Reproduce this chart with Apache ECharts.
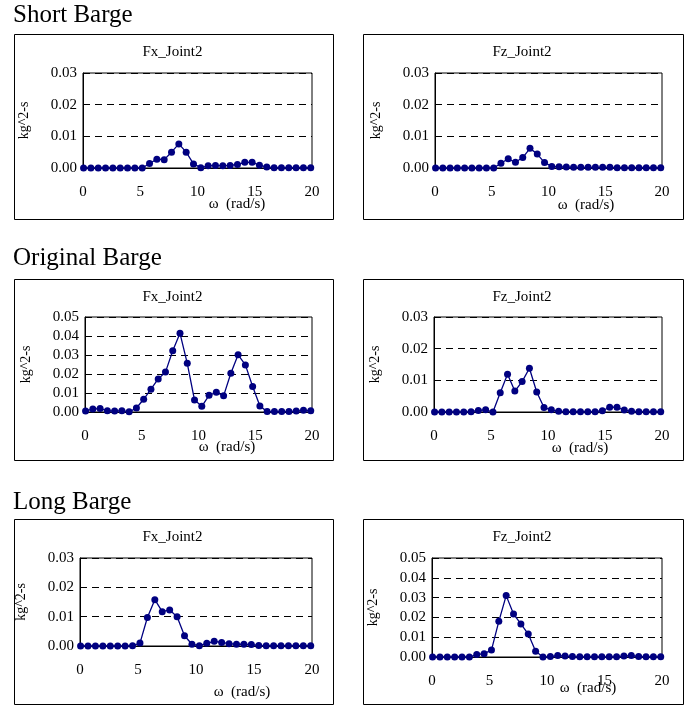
<!DOCTYPE html>
<html lang="en">
<head>
  <meta charset="UTF-8">
  <title>Barge joint spectra</title>
  <style>
    html, body { margin: 0; padding: 0; background: #fff; }
  </style>
</head>
<body>
<div id="main" style="width: 686px;height:706px;"></div>
<script src="https://cdn.jsdelivr.net/npm/echarts@6/dist/echarts.min.js"></script>
<script type="text/javascript">
  // frequencies (rad/s), shared by all six panels
  const omega = [0.05, 0.69, 1.33, 1.97, 2.61, 3.25, 3.89, 4.53, 5.17, 5.81, 6.45, 7.09, 7.73, 8.37, 9.01, 9.65,
    10.29, 10.93, 11.57, 12.21, 12.85, 13.49, 14.13, 14.77, 15.41, 16.05, 16.69, 17.33, 17.97, 18.61, 19.25, 19.89]

  const shortFx = [0, 0, 0, 0, 0, 0, 0, 0, 0, 0.0014, 0.0028, 0.0026, 0.005, 0.0076, 0.005, 0.0013,
    0.0001, 0.0007, 0.0008, 0.0007, 0.0008, 0.0011, 0.0018, 0.0018, 0.0009, 0.0003, 0.0001, 0.0001, 0.0001, 0.0001, 0.0001, 0.0001]
  const shortFz = [0, 0, 0, 0, 0, 0, 0, 0, 0, 0.0015, 0.0029, 0.0018, 0.0033, 0.0062, 0.0044, 0.0017,
    0.0005, 0.0004, 0.0003, 0.0002, 0.0002, 0.0002, 0.0002, 0.0002, 0.0002, 0.0001, 0.0001, 0.0001, 0.0001, 0.0001, 0.0001, 0.0001]
  const originalFx = [0.0005, 0.0016, 0.0018, 0.0007, 0.0005, 0.0007, 0.0001, 0.0021, 0.0067, 0.012, 0.0174, 0.021, 0.0322, 0.0414, 0.0256, 0.0063,
    0.003, 0.0088, 0.0104, 0.0085, 0.0204, 0.0301, 0.0248, 0.0134, 0.0032, 0.0002, 0.0002, 0.0002, 0.0002, 0.0005, 0.0009, 0.0007]
  const originalFz = [0, 0, 0, 0, 0, 0.0001, 0.0005, 0.0007, 0, 0.0061, 0.0119, 0.0066, 0.0096, 0.0138, 0.0063, 0.0014,
    0.0007, 0.0002, 0.0001, 0.0001, 0.0001, 0.0001, 0.0001, 0.0004, 0.0015, 0.0015, 0.0006, 0.0002, 0.0001, 0.0001, 0.0001, 0.0001]
  const longFx = [0, 0, 0, 0, 0, 0, 0, 0.0001, 0.001, 0.0097, 0.0158, 0.0117, 0.0123, 0.01, 0.0035, 0.0006,
    0.0001, 0.0009, 0.0016, 0.0012, 0.0008, 0.0006, 0.0006, 0.0005, 0.0002, 0.0001, 0.0001, 0.0001, 0.0001, 0.0001, 0.0001, 0.0001]
  const longFz = [0, 0, 0, 0, 0, 0, 0.0012, 0.0017, 0.0035, 0.018, 0.031, 0.0217, 0.0167, 0.0116, 0.0029, 0,
    0.0002, 0.0007, 0.0005, 0.0002, 0.0001, 0.0001, 0.0001, 0.0001, 0.0001, 0.0001, 0.0005, 0.0007, 0.0003, 0.0001, 0.0001, 0.0001]

  const sections = ['Short Barge', 'Original Barge', 'Long Barge']
  const panelTitles = ['Fx_Joint2', 'Fz_Joint2']
  const panelData = [shortFx, shortFz, originalFx, originalFz, longFx, longFz]
  const yMax = [0.03, 0.03, 0.05, 0.03, 0.03, 0.05]

  // layout of each panel: outer box, plot area, x-name position
  const panels = [
    { box: [14, 34, 319, 185], plot: [83, 73, 229, 95], xName: [237, 204] },
    { box: [363, 34, 320, 185], plot: [435, 73, 227, 95], xName: [586, 205] },
    { box: [14, 279, 319, 181], plot: [85, 317, 227, 95], xName: [227, 447] },
    { box: [363, 279, 320, 181], plot: [434, 317, 228, 95], xName: [580, 448] },
    { box: [14, 519, 319, 185], plot: [80, 558, 232, 88], xName: [242, 692] },
    { box: [363, 519, 320, 185], plot: [432, 558, 230, 99], xName: [588, 688] }
  ]
  const sectionY = [3, 246, 490]

  const font = '"Liberation Serif", "Times New Roman", serif'
  const navy = '#000080'

  const grids = []
  const xAxes = []
  const yAxes = []
  const series = []
  const graphics = []

  sections.forEach((s, i) => {
    graphics.push({
      type: 'text', left: 13, top: sectionY[i],
      style: { text: s, font: '25px ' + font, fill: '#000' }
    })
  })

  panels.forEach((p, i) => {
    const [bx, by, bw, bh] = p.box
    const [px, py, pw, ph] = p.plot
    graphics.push({
      type: 'rect', shape: { x: bx + 0.5, y: by + 0.5, width: bw, height: bh },
      style: { fill: 'none', stroke: '#000', lineWidth: 1 }, z: -1
    })
    graphics.push({
      type: 'text', x: bx + bw / 2 - 1, y: by + 18,
      style: { text: panelTitles[i % 2], font: '15px ' + font, fill: '#000', align: 'center', verticalAlign: 'middle' }
    })
    graphics.push({
      type: 'text', x: p.xName[0], y: p.xName[1],
      style: { text: 'ω  (rad/s)', font: '15px ' + font, fill: '#000', align: 'center', verticalAlign: 'middle' }
    })
    grids.push({ left: px, top: py, width: pw, height: ph, show: true, borderColor: '#000', borderWidth: 1 })
    xAxes.push({
      gridIndex: i, type: 'value', min: 0, max: 20, interval: 5,
      axisLine: { show: true, onZero: false, lineStyle: { color: '#000' } },
      axisTick: { show: false },
      splitLine: { show: false },
      axisLabel: { color: '#000', fontFamily: font, fontSize: 15, margin: 17 }
    })
    yAxes.push({
      gridIndex: i, type: 'value', min: 0, max: yMax[i], interval: 0.01,
      name: 'kg^2-s', nameLocation: 'middle', nameGap: 52,
      nameTextStyle: { color: '#000', fontFamily: font, fontSize: 14 },
      axisLine: { show: true, lineStyle: { color: '#000' } },
      axisTick: { show: false },
      splitLine: { show: true, lineStyle: { color: '#000', type: [7, 5] } },
      axisLabel: { color: '#000', fontFamily: font, fontSize: 15, margin: 6, formatter: (v) => v.toFixed(2) }
    })
    series.push({
      type: 'line', xAxisIndex: i, yAxisIndex: i,
      data: omega.map((w, k) => [w, panelData[i][k]]),
      symbol: 'circle', symbolSize: 7, showAllSymbol: true,
      itemStyle: { color: navy },
      lineStyle: { color: navy, width: 1.3 },
      animation: false
    })
  })

  const Chart = echarts.init(document.getElementById('main'))
  Chart.setOption({
    backgroundColor: '#fff',
    animation: false,
    grid: grids,
    xAxis: xAxes,
    yAxis: yAxes,
    series: series,
    graphic: graphics
  })
</script>
</body>
</html>
